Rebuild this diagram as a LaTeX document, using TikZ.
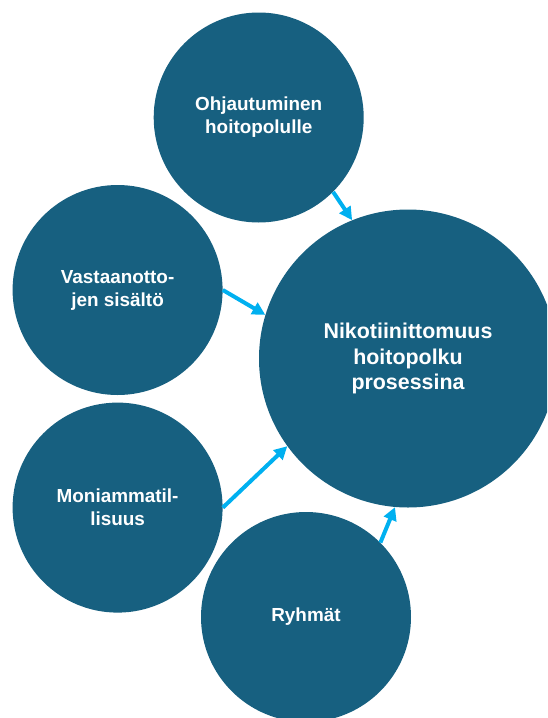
\documentclass[tikz,border=0pt]{standalone}
\usepackage{fontspec}
\setmainfont{Liberation Sans}
\usetikzlibrary{arrows.meta}
\definecolor{bubble}{RGB}{23,96,128}
\definecolor{linkblue}{RGB}{0,176,240}
\tikzset{
  bubble/.style={circle, fill=bubble, draw=none, inner sep=0pt, minimum size=210pt,
    text=white, align=center, font=\fontsize{18.9}{23}\selectfont\bfseries},
  bigbubble/.style={bubble, minimum size=298pt, font=\fontsize{21.4}{25.8}\selectfont\bfseries},
  link/.style={draw=linkblue, line width=4pt, -{Triangle[length=13pt,width=13pt]}}
}
\begin{document}
\begin{tikzpicture}[x=1pt, y=-1pt]
  \useasboundingbox (0,0) rectangle (547,718);
  \clip (0,0) rectangle (547,718);
  % bubbles
  \node[bubble] (guide) at (258.7,117.5) {Ohjautuminen\\hoitopolulle};
  \node[bubble] (visit) at (117.6,290) {Vastaanotto-\\jen sisältö};
  \node[bubble] (multi) at (117.6,507.6) {Moniammatil-\\lisuus};
  \node[bubble] (group) at (306,617) {Ryhmät};
  \node[bigbubble] (path) at (408,358.5) {Nikotiinittomuus\\hoitopolku\\prosessina};
  % links into the central bubble
  \draw[link] (guide.-45) -- (path.112.6);
  \draw[link] (visit.0) -- (path.163.2);
  \draw[link] (multi.0) -- (path.216);
  \draw[link] (group.45) -- (path.265);
\end{tikzpicture}
\end{document}
